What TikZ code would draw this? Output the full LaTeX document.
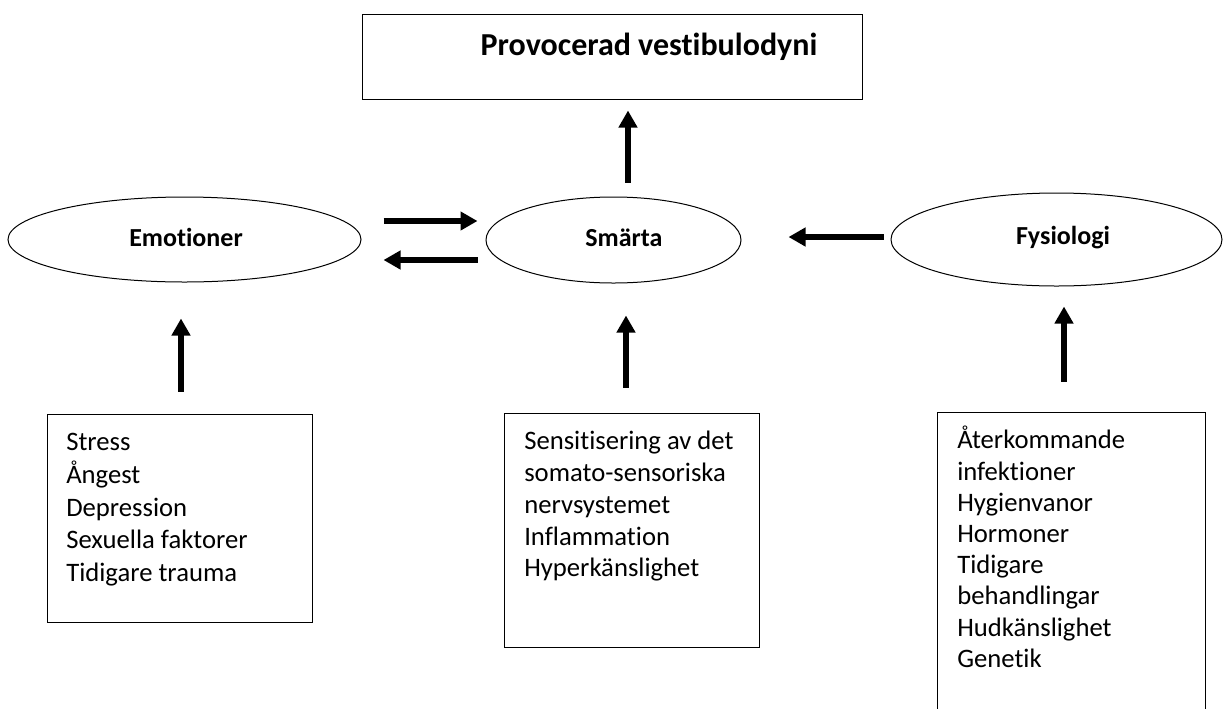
\documentclass[tikz,border=0pt]{standalone}
\usepackage{fontspec}
\setmainfont{Carlito}[Ligatures={NoCommon}]
\usetikzlibrary{shapes.geometric,arrows.meta,calc}
\newlength\pxu
\setlength\pxu{0.75pt}
\begin{document}
\begin{tikzpicture}[x=0.75pt,y=-0.75pt,
 oval/.style={ellipse,draw=black,line width=0.75pt,inner sep=0pt},
 frame/.style={rectangle,draw=black,line width=0.75pt,inner sep=0pt},
 lbl/.style={font=\fontsize{19.5}{23}\selectfont\bfseries, inner sep=0pt, anchor=base},
 body/.style={align=left, inner sep=0pt, anchor=north west},
 bigarrow/.style={draw=black,line width=4.875pt, -{Triangle[length=12.75pt,width=13.5pt]}}
]
\useasboundingbox (0,0) rectangle (1225,708);
\clip (0,0) rectangle (1225,708);

% top box
\node[frame, minimum width=500\pxu, minimum height=85\pxu] (top) at (612,56.5) {};
\node[lbl, font=\fontsize{24}{28}\selectfont\bfseries] (title) at (649,55) {Provocerad vestibulodyni};

% ellipses
\node[oval, minimum width=353\pxu, minimum height=85\pxu] (emo) at (184.5,239.5) {};
\node[lbl] (emot) at (186,246) {Emotioner};
\node[oval, minimum width=255\pxu, minimum height=86\pxu] (sma) at (613.5,240) {};
\node[lbl] (smat) at (624,246) {Smärta};
\node[oval, minimum width=331\pxu, minimum height=93\pxu] (fys) at (1056.5,239.5) {};
\node[lbl] (fyst) at (1063,244) {Fysiologi};

% lower boxes
\node[frame, minimum width=265\pxu, minimum height=208\pxu] (lbox) at (179.5,518) {};
\node[body, font=\fontsize{20}{24.4}\selectfont] (ltext) at (66,424) {\rule{0pt}{20pt}Stress\\Ångest\\Depression\\Sexuella faktorer\\Tidigare trauma};

\node[frame, minimum width=255\pxu, minimum height=234\pxu] (mbox) at (631.5,530) {};
\node[body, font=\fontsize{20}{23.8}\selectfont] (mtext) at (524,423) {\rule{0pt}{20pt}Sensitisering av det\\somato-sensoriska\\nervsystemet\\Inflammation\\Hyperkänslighet};

\node[frame, minimum width=268\pxu, minimum height=320\pxu] (rbox) at (1071,572) {};
\node[body, font=\fontsize{20}{23.4}\selectfont] (rtext) at (957,422) {\rule{0pt}{20pt}Återkommande\\infektioner\\Hygienvanor\\Hormoner\\Tidigare\\behandlingar\\Hudkänslighet\\Genetik};

% arrows
\draw[bigarrow] ($(sma.north)+(14.5,-14)$) -- ($(top.south)+(16,11)$);
\draw[bigarrow] ($(emo.east)+(22,-18.5)$) -- ($(sma.west)+(-8,-19)$);
\draw[bigarrow] ($(sma.west)+(-8,20)$) -- ($(emo.east)+(22,20.5)$);
\draw[bigarrow] ($(fys.west)+(-7,-2.5)$) -- ($(sma.east)+(47,-3)$);
\draw[bigarrow] ($(lbox.north)+(1.5,-22)$) -- ($(emo.south)+(-3.5,36)$);
\draw[bigarrow] ($(mbox.north)+(-5.5,-25)$) -- ($(sma.south)+(12.5,32)$);
\draw[bigarrow] ($(rbox.north)+(-7,-30)$) -- ($(fys.south)+(7.5,20)$);
\end{tikzpicture}
\end{document}
